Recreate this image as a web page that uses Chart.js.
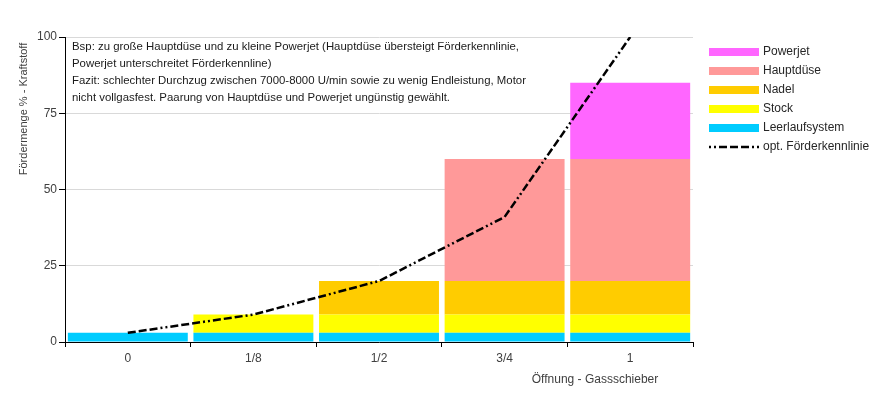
<!DOCTYPE html>
<html>
<head>
<meta charset="utf-8">
<script src="https://cdn.jsdelivr.net/npm/chart.js@4"></script>
<style>
  html, body { margin: 0; padding: 0; background: #fff; }
  #wrap { width: 881px; height: 394px; }
</style>
</head>
<body>
<div id="wrap"><canvas id="chart" width="881" height="394"></canvas></div>
<script>
// categories and values
const categories = ["0", "1/8", "1/2", "3/4", "1"];
const leerlauf = [3, 3, 3, 3, 3];
const stock = [0, 6, 6, 6, 6];
const nadel = [0, 0, 11, 11, 11];
const hauptduese = [0, 0, 0, 40, 40];
const powerjet = [0, 0, 0, 0, 25];
const kennlinie = [3, 9, 20, 41, 100];
const yTicks = [0, 25, 50, 75, 100];

const noteLines = [
  "Bsp: zu große Hauptdüse und zu kleine Powerjet (Hauptdüse übersteigt Förderkennlinie,",
  "Powerjet unterschreitet Förderkennline)",
  "Fazit: schlechter Durchzug zwischen 7000-8000 U/min sowie zu wenig Endleistung, Motor",
  "nicht vollgasfest. Paarung von Hauptdüse und Powerjet ungünstig gewählt."
];

const FONT = "'Liberation Sans', Arial, sans-serif";
// long dash x3, dot x2
const dash = [8, 3, 8, 3, 8, 3, 2, 3, 2, 3];

function bar(label, data, color) {
  return {
    type: "bar",
    label: label,
    data: data,
    backgroundColor: color,
    borderWidth: 0,
    barPercentage: 0.955,
    categoryPercentage: 1,
    order: 1,
  };
}

// legend, titles and the note are drawn by hand to sit like the original
const extras = {
  id: "extras",
  afterDraw(chart) {
    const c = chart.ctx;
    const area = chart.chartArea;
    c.save();

    // note text top left in the plot
    c.fillStyle = "#1a1a1a";
    c.font = "11.4px " + FONT;
    c.textBaseline = "middle";
    c.textAlign = "left";
    noteLines.forEach((t, i) => c.fillText(t, area.left + 7, 47 + i * 17));

    // y axis title
    c.fillStyle = "#404040";
    c.font = "11px " + FONT;
    c.save();
    c.translate(24, 109);
    c.rotate(-Math.PI / 2);
    c.textAlign = "center";
    c.fillText("Fördermenge % - Kraftstoff", 0, 0);
    c.restore();

    // x axis title
    c.textAlign = "center";
    c.font = "12px " + FONT;
    c.fillText("Öffnung - Gassschieber", 595, 380);

    // legend (reverse order, line last)
    const items = chart.data.datasets.filter(d => d.type === "bar").reverse();
    items.push(chart.data.datasets.find(d => d.type === "line"));
    c.font = "12px " + FONT;
    c.textAlign = "left";
    items.forEach((d, i) => {
      const y = 52 + i * 19;
      if (d.type === "bar") {
        c.fillStyle = d.backgroundColor;
        c.fillRect(709, y - 4, 50, 8);
      } else {
        c.strokeStyle = "#000";
        c.lineWidth = 2.5;
        c.setLineDash(dash);
        c.lineDashOffset = 33;
        c.beginPath();
        c.moveTo(709, y);
        c.lineTo(759, y);
        c.stroke();
        c.setLineDash([]);
      }
      c.fillStyle = "#262626";
      c.fillText(d.label, 763, y);
    });
    c.restore();
  },
};

const chart = new Chart(document.getElementById("chart").getContext("2d"), {
  data: {
    labels: categories,
    datasets: [
      {
        type: "line",
        label: "opt. Förderkennlinie",
        data: kennlinie,
        borderColor: "#000",
        borderWidth: 2.5,
        borderDash: dash,
        pointRadius: 0,
        fill: false,
        tension: 0,
        stack: "kennlinie",
        order: 0,
      },
      bar("Leerlaufsystem", leerlauf, "#00CCFF"),
      bar("Stock", stock, "#FFFF00"),
      bar("Nadel", nadel, "#FFCC00"),
      bar("Hauptdüse", hauptduese, "#FF9999"),
      bar("Powerjet", powerjet, "#FF66FF"),
    ],
  },
  options: {
    responsive: false,
    animation: false,
    layout: { padding: { left: 0, right: 188, top: 37, bottom: 0 } },
    plugins: {
      legend: { display: false },
      tooltip: { enabled: false },
    },
    scales: {
      x: {
        stacked: true,
        afterFit: (s) => { s.height = 52; },
        border: { color: "#000", width: 1 },
        grid: {
          offset: true,
          drawOnChartArea: false,
          tickLength: 5,
          tickColor: "#000",
        },
        ticks: {
          color: "#404040",
          font: { family: FONT, size: 12 },
          padding: 4,
          maxRotation: 0,
        },
      },
      y: {
        stacked: true,
        min: 0,
        max: 100,
        afterFit: (s) => { s.width = 65; },
        afterBuildTicks: (s) => { s.ticks = yTicks.map(v => ({ value: v })); },
        border: { color: "#000", width: 1 },
        grid: {
          color: "#d9d9d9",
          tickColor: "#000",
          tickLength: 6,
        },
        ticks: {
          color: "#404040",
          font: { family: FONT, size: 12 },
          padding: 2,
        },
      },
    },
  },
  plugins: [extras],
});
</script>
</body>
</html>
